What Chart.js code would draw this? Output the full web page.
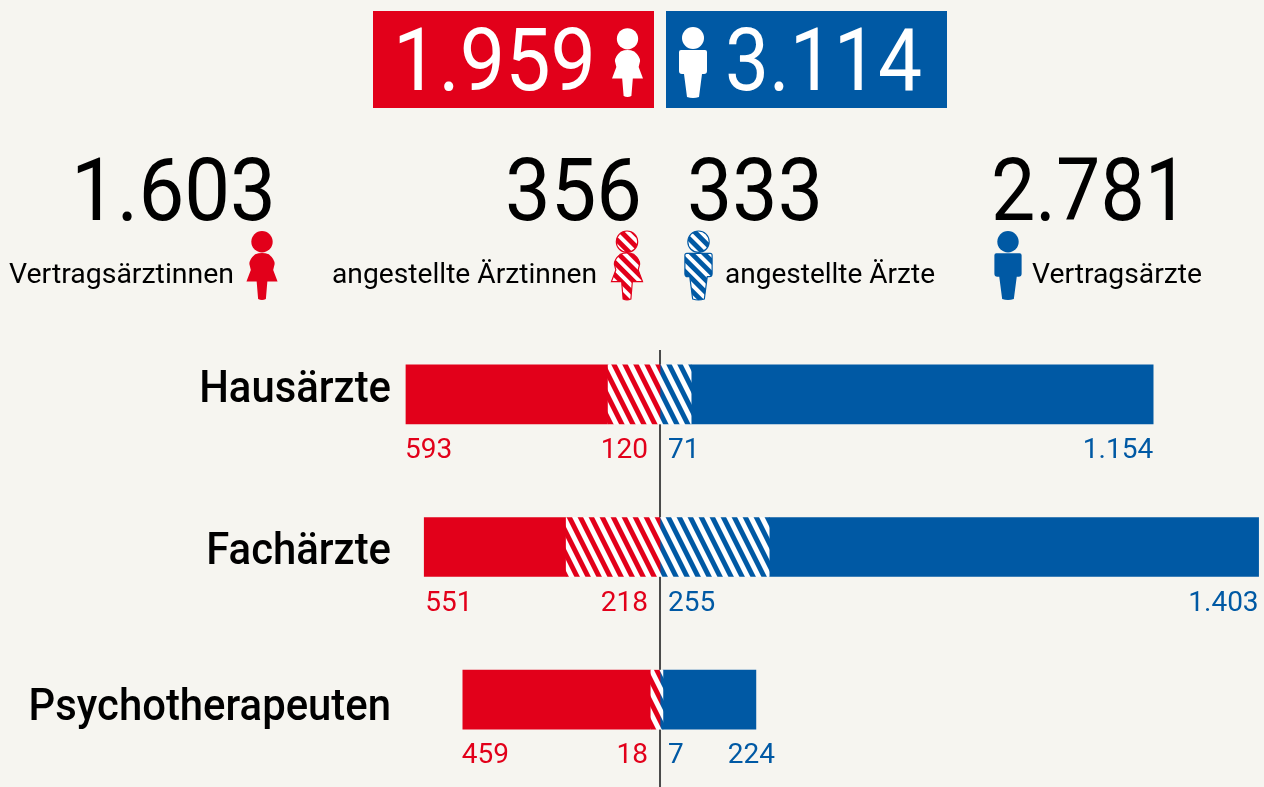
<!DOCTYPE html>
<html lang="de">
<head>
<meta charset="utf-8">
<title>Ärztinnen und Ärzte</title>
<script src="https://cdn.jsdelivr.net/npm/chart.js@4"></script>
<style>
  html, body { margin: 0; padding: 0; background: #f6f5f0; }
  #stage { position: relative; width: 1264px; height: 787px; overflow: hidden; font-family: Roboto, sans-serif; color: #000; }
  #stage canvas { position: absolute; left: 0; top: 0; }
  .box { position: absolute; top: 11px; width: 281px; height: 97px; }
  .big { position: absolute; font-size: 87px; line-height: 87px; white-space: nowrap; transform-origin: 0 0; }
  .small { position: absolute; font-size: 28px; line-height: 32px; white-space: nowrap; transform-origin: 0 0; }
  svg.icon { position: absolute; overflow: visible; }
</style>
</head>
<body>
<div id="stage">
  <canvas id="barChart" width="1264" height="787"></canvas>
  <svg width="0" height="0" style="position:absolute">
    <defs>
      <pattern id="hatchRed" width="9" height="9" patternUnits="userSpaceOnUse" patternTransform="rotate(45)">
        <rect width="9" height="9" fill="#fff"/><rect width="9" height="5" fill="#e2001a"/>
      </pattern>
      <pattern id="hatchBlue" width="9" height="9" patternUnits="userSpaceOnUse" patternTransform="rotate(45)">
        <rect width="9" height="9" fill="#fff"/><rect width="9" height="5" fill="#0059a4"/>
      </pattern>
      <g id="woman">
        <ellipse cx="16" cy="11" rx="11" ry="11"/>
        <path d="M9 24 Q16 21 23 24 Q29 29 29 34 L27.5 40 L32 52 L21.5 52 L20 70 Q16 72 12 70 L10.5 52 L0 52 L4.5 40 L3 34 Q3 29 9 24 Z"/>
      </g>
      <g id="man">
        <ellipse cx="14" cy="11" rx="11" ry="11"/>
        <path d="M2 23 L26 23 Q28 23 28 25 L28 44 Q28 47 25 47 L23 47 L20 70 Q14 72 8 70 L5 47 L3 47 Q0 47 0 44 L0 25 Q0 23 2 23 Z"/>
      </g>
    </defs>
  </svg>
</div>
<script>
// Zahlen wie abgedruckt
const categories = ['Hausärzte', 'Fachärzte', 'Psychotherapeuten'];
const vertragsaerztinnen = [593, 551, 459];
const angestellteAerztinnen = [120, 218, 18];
const angestellteAerzte = [71, 255, 7];
const vertragsaerzte = [1154, 1403, 224];

// Balkenlängen wie im Bild gemessen: die Vorlage zeichnet nicht maßstabsgetreu
// zu den abgedruckten Zahlen (z.B. 551 kürzer als 218+255), daher eigene Reihen
const lenVertragsaerztinnen = [487, 342, 453];
const lenAngestellteAerztinnen = [125, 226, 22];
const lenAngestellteAerzte = [75, 263, 7];
const lenVertragsaerzte = [1113, 1179, 224];

const totalWomen = '1.959';
const totalMen = '3.114';
const groupTotals = ['1.603', '356', '333', '2.781'];
const groupLabels = ['Vertragsärztinnen', 'angestellte Ärztinnen', 'angestellte Ärzte', 'Vertragsärzte'];

const RED = '#e2001a';
const BLUE = '#0059a4';
const fmt = n => n.toLocaleString('de-DE');

// --- Kopfbereich ---
const stage = document.getElementById('stage');

function addBox(left, color) {
  const d = document.createElement('div');
  d.className = 'box';
  d.style.left = left + 'px';
  d.style.background = color;
  stage.appendChild(d);
}

// Text auf die Breite der Vorlage bringen, die Schrift dort ist schmaler
function addText(cls, text, top, left, width, color) {
  const s = document.createElement('span');
  s.className = cls;
  s.textContent = text;
  s.style.top = top + 'px';
  s.style.left = left + 'px';
  if (color) s.style.color = color;
  stage.appendChild(s);
  s.style.transform = 'scaleX(' + (width / s.getBoundingClientRect().width) + ')';
}

function addIcon(which, x, y, w, h, fill, stroke) {
  const vw = which === 'woman' ? 32 : 28;
  const svg = document.createElementNS('http://www.w3.org/2000/svg', 'svg');
  svg.setAttribute('class', 'icon');
  svg.setAttribute('viewBox', '0 0 ' + vw + ' 72');
  svg.setAttribute('width', w);
  svg.setAttribute('height', h);
  svg.style.left = x + 'px';
  svg.style.top = y + 'px';
  const use = document.createElementNS('http://www.w3.org/2000/svg', 'use');
  use.setAttribute('href', '#' + which);
  use.setAttribute('fill', fill);
  if (stroke) { use.setAttribute('stroke', stroke); use.setAttribute('stroke-width', '1.2'); }
  svg.appendChild(use);
  stage.appendChild(svg);
}

addBox(373, RED);
addBox(666, BLUE);
addText('big', totalWomen, 17, 393, 203, '#fff');
addText('big', totalMen, 17, 725, 197, '#fff');
addIcon('woman', 612, 27, 31, 72, '#fff');
addIcon('man', 679, 27, 28, 72, '#fff');

addText('big', groupTotals[0], 147, 71, 205);
addText('big', groupTotals[1], 147, 505, 137);
addText('big', groupTotals[2], 147, 687, 136);
addText('big', groupTotals[3], 147, 991, 198);

addText('small', groupLabels[0], 258, 9, 225);
addText('small', groupLabels[1], 258, 332, 265);
addText('small', groupLabels[2], 258, 725, 210);
addText('small', groupLabels[3], 258, 1032, 170);
addIcon('woman', 246, 231, 32, 70, RED);
addIcon('woman', 611, 231, 32, 70, 'url(#hatchRed)', RED);
addIcon('man', 684, 231, 29, 70, 'url(#hatchBlue)', BLUE);
addIcon('man', 994, 231, 28, 70, BLUE);

// --- Schraffur für die angestellten ---
function hatch(ctx, color) {
  const period = 11, tile = document.createElement('canvas');
  tile.width = period; tile.height = period * 2;
  const t = tile.getContext('2d');
  t.fillStyle = '#fff';
  t.fillRect(0, 0, period, period * 2);
  t.fillStyle = color;
  for (let i = -2; i <= 2; i++) {
    const x = i * period;
    t.beginPath();
    t.moveTo(x, 0);
    t.lineTo(x + 5.5, 0);
    t.lineTo(x + 5.5 + period, period * 2);
    t.lineTo(x + period, period * 2);
    t.closePath();
    t.fill();
  }
  return ctx.createPattern(tile, 'repeat');
}

// Mittellinie, liegt hinter den Balken
const centerLine = {
  id: 'centerLine',
  beforeDatasetsDraw(chart) {
    const x = chart.scales.x.getPixelForValue(0), c = chart.ctx;
    c.save();
    c.strokeStyle = '#4a4a4a';
    c.lineWidth = 2;
    c.beginPath();
    c.moveTo(x, 350);
    c.lineTo(x, 787);
    c.stroke();
    c.restore();
  }
};

// Kategorien: in der Vorlage nicht gleichmäßig zu den Balken ausgerichtet
const categoryLabels = {
  id: 'categoryLabels',
  afterDatasetsDraw(chart) {
    const c = chart.ctx, yScale = chart.scales.y;
    const baselineShift = [8, 17, 20];
    c.save();
    c.font = '500 45px Roboto, sans-serif';
    c.fillStyle = '#000';
    c.textAlign = 'right';
    c.textBaseline = 'alphabetic';
    categories.forEach((name, i) => {
      c.save();
      c.translate(391, yScale.getPixelForTick(i) + baselineShift[i]);
      c.scale(0.93, 1);
      c.fillText(name, 0, 0);
      c.restore();
    });
    c.restore();
  }
};

// Zahlen unter den Balken
const valueLabels = {
  id: 'valueLabels',
  afterDatasetsDraw(chart) {
    const c = chart.ctx, zero = chart.scales.x.getPixelForValue(0);
    c.save();
    c.font = '400 28px Roboto, sans-serif';
    c.textBaseline = 'middle';
    chart.data.datasets.forEach((ds, i) => {
      chart.getDatasetMeta(i).data.forEach((bar, j) => {
        const y = bar.y + bar.height / 2 + 27;
        c.fillStyle = ds.labelColor;
        const text = fmt(ds.printed[j]);
        if (ds.place === 'outerLeft') {
          c.textAlign = 'left';
          c.fillText(text, bar.x + (j === 1 ? 1 : -1), y);
        } else if (ds.place === 'innerLeft') {
          c.textAlign = 'right';
          c.fillText(text, zero - 12, y);
        } else if (ds.place === 'innerRight') {
          c.textAlign = 'left';
          c.fillText(text, zero + 8, y);
        } else {
          // die 224 steht in der Vorlage über das Balkenende hinaus
          c.textAlign = 'right';
          c.fillText(text, bar.x + (j === 2 ? 19 : 0), y);
        }
      });
    });
    c.restore();
  }
};

const ctx = document.getElementById('barChart').getContext('2d');

function series(label, len, printed, color, place, hatched) {
  return {
    label: label,
    data: len,
    printed: printed,
    place: place,
    labelColor: color,
    backgroundColor: hatched ? hatch(ctx, color) : color,
    borderWidth: 0,
    barThickness: 59,
    stack: 'all'
  };
}

new Chart(ctx, {
  type: 'bar',
  data: {
    labels: categories,
    datasets: [
      series('angestellte Ärztinnen', lenAngestellteAerztinnen.map(v => -v), angestellteAerztinnen, RED, 'innerLeft', true),
      series('Vertragsärztinnen', lenVertragsaerztinnen.map(v => -v), vertragsaerztinnen, RED, 'outerLeft', false),
      series('angestellte Ärzte', lenAngestellteAerzte, angestellteAerzte, BLUE, 'innerRight', true),
      series('Vertragsärzte', lenVertragsaerzte, vertragsaerzte, BLUE, 'outerRight', false)
    ]
  },
  options: {
    indexAxis: 'y',
    responsive: false,
    animation: false,
    layout: { padding: { top: 318, bottom: 11, left: 396, right: 0 } },
    plugins: { legend: { display: false }, tooltip: { enabled: false } },
    scales: {
      x: { display: false, stacked: true, min: -636, max: 1455 },
      y: { display: false, stacked: true }
    }
  },
  plugins: [centerLine, categoryLabels, valueLabels]
});
</script>
</body>
</html>
